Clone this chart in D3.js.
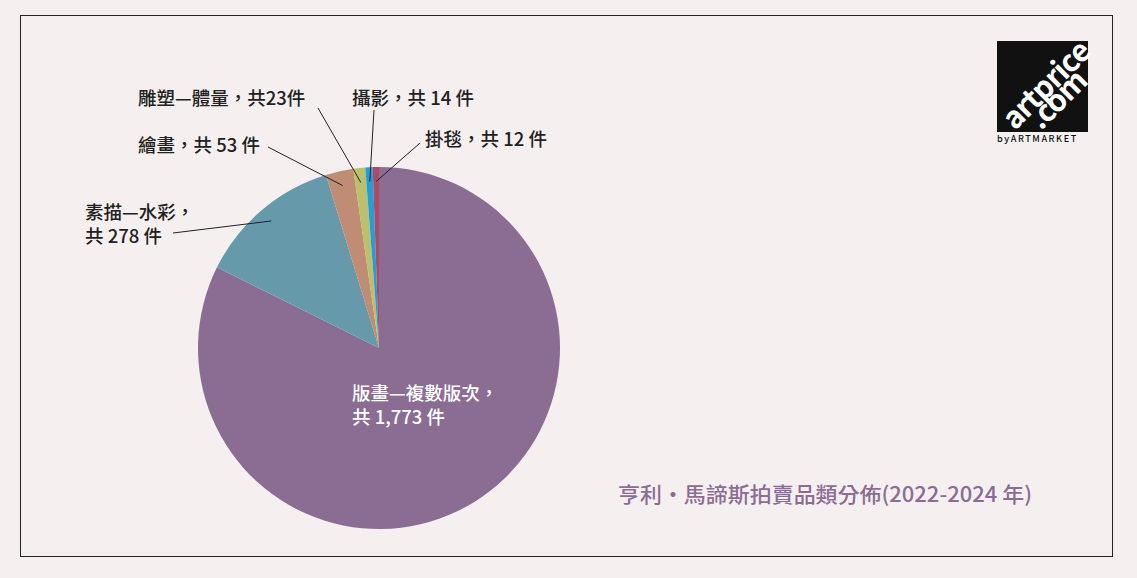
<!DOCTYPE html>
<html><head><meta charset="utf-8">
<script src="https://cdn.jsdelivr.net/npm/d3@7"></script>
<style>body{margin:0;background:#f5f0ef}text{font-family:"Noto Sans CJK TC","Noto Sans",sans-serif}</style>
</head><body><svg width="1137" height="578"></svg>
<script>
const categories = ['版畫—複數版次', '素描—水彩', '繪畫', '雕塑—體量', '攝影', '掛毯']
const counts = [1773, 278, 53, 23, 14, 12]
const colors = ['#8b6d94', '#6699aa', '#c08c74', '#bcc06a', '#1ea0dc', '#b04a62']
// label text lines, anchor point and leader endpoint (pixel layout)
const labels = [
  { lines: ['版畫—複數版次，', '共 1,773 件'], x: 352, y: 400, fill: '#fff' },
  { lines: ['素描—水彩，', '共 278 件'], x: 85, y: 219, line: [173, 233] },
  { lines: ['繪畫，共 53 件'], x: 138, y: 152, line: [268, 147] },
  { lines: ['雕塑—體量，共23件'], x: 138, y: 105, line: [318, 108] },
  { lines: ['攝影，共 14 件'], x: 352, y: 105, line: [374, 110] },
  { lines: ['掛毯，共 12 件'], x: 425, y: 146, line: [420, 143] }
]

const svg = d3.select('svg')
svg.append('rect').attr('x', 20.5).attr('y', 15.5).attr('width', 1092).attr('height', 541)
  .attr('fill', '#f5f0ef').attr('stroke', '#222')

const cx = 379, cy = 348, r = 181
const pie = d3.pie().sort(null).value(d => d)
const arc = d3.arc().innerRadius(0).outerRadius(r)
const arcs = pie(counts)
const g = svg.append('g').attr('transform', `translate(${cx},${cy})`)
g.selectAll('path').data(arcs).join('path')
  .attr('d', arc).attr('fill', (d, i) => colors[i])

const inner = d3.arc().innerRadius(r * 0.92).outerRadius(r * 0.92)
labels.forEach((l, i) => {
  if (l.line) {
    const [px, py] = inner.centroid(arcs[i])
    svg.append('line').attr('x1', l.line[0]).attr('y1', l.line[1])
      .attr('x2', cx + px).attr('y2', cy + py).attr('stroke', '#222').attr('stroke-width', 1)
  }
  const t = svg.append('text').attr('x', l.x).attr('y', l.y)
    .attr('font-size', 18.5).attr('font-weight', 500).attr('fill', l.fill || '#222')
  l.lines.forEach((s, j) => t.append('tspan').attr('x', l.x).attr('dy', j ? 24 : 0).text(s))
})

svg.append('text').attr('x', 1032).attr('y', 502).attr('text-anchor', 'end')
  .attr('font-size', 21).attr('font-weight', 500).attr('fill', '#8b6d94')
  .attr('textLength', 414).attr('lengthAdjust', 'spacingAndGlyphs')
  .text('亨利·馬諦斯拍賣品類分佈(2022-2024 年)')

// logo
const lg = svg.append('g').attr('transform', 'translate(997,41)')
lg.append('rect').attr('width', 91).attr('height', 91).attr('fill', '#111')
lg.append('text').attr('transform', 'translate(18,90) rotate(-45)')
  .attr('font-size', 30).attr('font-weight', 700).attr('fill', '#fff').attr('font-family', 'Roboto')
  .attr('letter-spacing', -1).text('artprice')
lg.append('text').attr('transform', 'translate(44,90) rotate(-45)')
  .attr('font-size', 30).attr('font-weight', 700).attr('fill', '#fff').attr('font-family', 'Roboto')
  .attr('letter-spacing', -1).text('.com')
lg.append('text').attr('x', 0).attr('y', 101).attr('font-size', 9).attr('letter-spacing', 1.6)
  .attr('fill', '#111').attr('font-family', 'Roboto').attr('font-weight', 500).text('byARTMARKET')
</script></body></html>
